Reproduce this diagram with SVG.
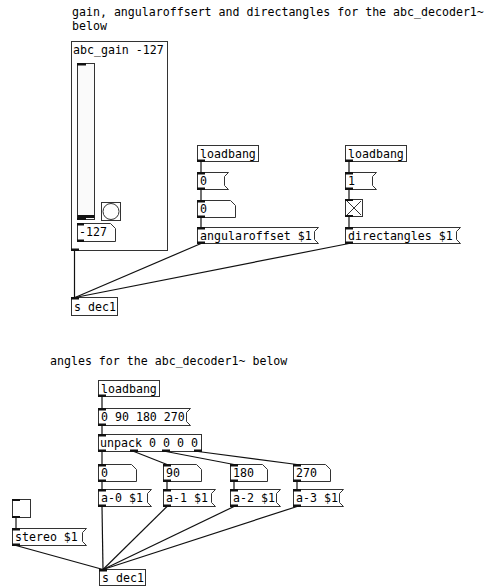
<svg xmlns="http://www.w3.org/2000/svg" width="488" height="586" viewBox="0 0 488 586">
<style>
text{font-family:"DejaVu Sans Mono","Liberation Mono",monospace;font-size:11.6px;fill:#000}
.b{fill:#fff;stroke:#333;stroke-width:1}
.io{fill:#111}
.w{stroke:#111;stroke-width:1.2;fill:none}
</style>
<rect width="488" height="586" fill="#fff"/>

<g id="comment1">
<text x="72" y="16">gain, angularoffsert and directangles for the abc_decoder1~</text>
<text x="72" y="30">below</text>
</g>

<g id="abc_gain">
<rect class="b" x="71.5" y="41.5" width="96" height="209"/>
<text x="73" y="54">abc_gain -127</text>
<rect x="77.5" y="63.5" width="17" height="156" fill="#fafafa" stroke="#333"/>
<rect class="io" x="77" y="63" width="9" height="2.5"/>
<rect class="io" x="77.5" y="215" width="17" height="3"/>
<rect class="io" x="77" y="218" width="9" height="2"/>
<rect class="b" x="101.5" y="202.5" width="19" height="18"/>
<circle cx="111" cy="211.5" r="8" fill="#fff" stroke="#333"/>
<path class="b" d="M77.5,223.5 H110.5 L115.5,228.5 V241.5 H77.5 Z"/>
<rect class="io" x="77" y="223" width="7" height="2.5"/>
<rect class="io" x="77" y="239.5" width="7" height="2.5"/>
<text x="79" y="236">-127</text>
<rect class="io" x="71" y="248.5" width="8" height="2.5"/>
</g>

<g id="sdec1_top">
<rect class="b" x="71.5" y="297.5" width="46" height="18"/>
<rect class="io" x="71" y="297" width="8" height="2.5"/>
<text x="74" y="310.5">s dec1</text>
</g>

<g id="loadbang1">
<rect class="b" x="197.5" y="145.5" width="61" height="16"/>
<rect class="io" x="197" y="159.5" width="8" height="2.5"/>
<text x="200" y="157.5">loadbang</text>
</g>
<g id="msg0">
<path class="b" d="M197.5,172.5 H228.5 L224.5,176.5 V185.5 L228.5,189.5 H197.5 Z"/>
<rect class="io" x="197" y="172" width="8" height="2.5"/>
<rect class="io" x="197" y="187.5" width="8" height="2.5"/>
<text x="200" y="185">0</text>
</g>
<g id="num0">
<path class="b" d="M197.5,200.5 H230.5 L235.5,205.5 V217.5 H197.5 Z"/>
<rect class="io" x="197" y="200" width="8" height="2.5"/>
<rect class="io" x="197" y="215.5" width="8" height="2.5"/>
<text x="200" y="213">0</text>
</g>
<g id="angularoffset">
<path class="b" d="M197.5,227.5 H318.5 L314.5,231.5 V239.5 L318.5,243.5 H197.5 Z"/>
<rect class="io" x="197" y="227" width="8" height="2.5"/>
<rect class="io" x="197" y="241.5" width="8" height="2.5"/>
<text x="200" y="240">angularoffset $1</text>
</g>

<g id="loadbang2">
<rect class="b" x="345.5" y="145.5" width="61" height="16"/>
<rect class="io" x="345" y="159.5" width="8" height="2.5"/>
<text x="348" y="157.5">loadbang</text>
</g>
<g id="msg1">
<path class="b" d="M345.5,172.5 H376.5 L372.5,176.5 V185.5 L376.5,189.5 H345.5 Z"/>
<rect class="io" x="345" y="172" width="8" height="2.5"/>
<rect class="io" x="345" y="187.5" width="8" height="2.5"/>
<text x="348" y="185">1</text>
</g>
<g id="toggle1">
<rect class="b" x="345.5" y="199.5" width="17" height="17"/>
<path d="M347,201 L361,215 M361,201 L347,215" stroke="#333" stroke-width="1"/>
<rect class="io" x="345" y="199" width="8" height="2"/>
<rect class="io" x="345" y="215" width="8" height="2"/>
</g>
<g id="directangles">
<path class="b" d="M345.5,227.5 H460.5 L456.5,231.5 V239.5 L460.5,243.5 H345.5 Z"/>
<rect class="io" x="345" y="227" width="8" height="2.5"/>
<rect class="io" x="345" y="241.5" width="8" height="2.5"/>
<text x="348" y="240">directangles $1</text>
</g>

<g id="comment2">
<text x="50" y="365">angles for the abc_decoder1~ below</text>
</g>

<g id="loadbang3">
<rect class="b" x="98.5" y="380.5" width="61" height="16"/>
<rect class="io" x="98" y="394.5" width="8" height="2.5"/>
<text x="101" y="392.5">loadbang</text>
</g>
<g id="msg_angles">
<path class="b" d="M98.5,408.5 H190.5 L186.5,412.5 V421.5 L190.5,425.5 H98.5 Z"/>
<rect class="io" x="98" y="408" width="8" height="2.5"/>
<rect class="io" x="98" y="423.5" width="8" height="2.5"/>
<text x="101" y="421">0 90 180 270</text>
</g>
<g id="unpack">
<rect class="b" x="98.5" y="434.5" width="103" height="17"/>
<rect class="io" x="98" y="434" width="8" height="2.5"/>
<rect class="io" x="98" y="449.5" width="8" height="2.5"/>
<rect class="io" x="130" y="449.5" width="8" height="2.5"/>
<rect class="io" x="162" y="449.5" width="8" height="2.5"/>
<rect class="io" x="194" y="449.5" width="8" height="2.5"/>
<text x="100" y="447" textLength="98" lengthAdjust="spacingAndGlyphs">unpack 0 0 0 0</text>
</g>

<g id="n0">
<path class="b" d="M98.5,464.5 H131.5 L136.5,469.5 V481.5 H98.5 Z"/>
<rect class="io" x="98" y="464" width="8" height="2.5"/>
<rect class="io" x="98" y="479.5" width="8" height="2.5"/>
<text x="101" y="477">0</text>
</g>
<g id="n90">
<path class="b" d="M163.5,464.5 H196.5 L201.5,469.5 V481.5 H163.5 Z"/>
<rect class="io" x="163" y="464" width="8" height="2.5"/>
<rect class="io" x="163" y="479.5" width="8" height="2.5"/>
<text x="166" y="477">90</text>
</g>
<g id="n180">
<path class="b" d="M230.5,464.5 H262.5 L267.5,469.5 V481.5 H230.5 Z"/>
<rect class="io" x="230" y="464" width="8" height="2.5"/>
<rect class="io" x="230" y="479.5" width="8" height="2.5"/>
<text x="233" y="477">180</text>
</g>
<g id="n270">
<path class="b" d="M293.5,464.5 H325.5 L330.5,469.5 V481.5 H293.5 Z"/>
<rect class="io" x="293" y="464" width="8" height="2.5"/>
<rect class="io" x="293" y="479.5" width="8" height="2.5"/>
<text x="296" y="477">270</text>
</g>

<g id="a0">
<path class="b" d="M98.5,489.5 H151.5 L147.5,493.5 V502.5 L151.5,506.5 H98.5 Z"/>
<rect class="io" x="98" y="489" width="8" height="2.5"/>
<rect class="io" x="98" y="504.5" width="8" height="2.5"/>
<text x="101" y="502">a-0 $1</text>
</g>
<g id="a1">
<path class="b" d="M163.5,489.5 H215.5 L211.5,493.5 V502.5 L215.5,506.5 H163.5 Z"/>
<rect class="io" x="163" y="489" width="8" height="2.5"/>
<rect class="io" x="163" y="504.5" width="8" height="2.5"/>
<text x="166" y="502">a-1 $1</text>
</g>
<g id="a2">
<path class="b" d="M230.5,489.5 H280.5 L276.5,493.5 V502.5 L280.5,506.5 H230.5 Z"/>
<rect class="io" x="230" y="489" width="8" height="2.5"/>
<rect class="io" x="230" y="504.5" width="8" height="2.5"/>
<text x="233" y="502">a-2 $1</text>
</g>
<g id="a3">
<path class="b" d="M293.5,489.5 H343.5 L339.5,493.5 V502.5 L343.5,506.5 H293.5 Z"/>
<rect class="io" x="293" y="489" width="8" height="2.5"/>
<rect class="io" x="293" y="504.5" width="8" height="2.5"/>
<text x="296" y="502">a-3 $1</text>
</g>

<g id="toggle2">
<rect class="b" x="12.5" y="499.5" width="18" height="18"/>
<rect class="io" x="12" y="499" width="8" height="2"/>
<rect class="io" x="12" y="516" width="8" height="2"/>
</g>
<g id="stereo">
<path class="b" d="M12.5,528.5 H86.5 L82.5,532.5 V541.5 L86.5,545.5 H12.5 Z"/>
<rect class="io" x="12" y="528" width="8" height="2.5"/>
<rect class="io" x="12" y="543.5" width="8" height="2.5"/>
<text x="15" y="541">stereo $1</text>
</g>

<g id="sdec1_bottom">
<rect class="b" x="99.5" y="569.5" width="46" height="16"/>
<rect class="io" x="99" y="569" width="8" height="2.5"/>
<text x="102" y="581.5">s dec1</text>
</g>

<g id="connectors">
<path class="w" d="M74.5,251 V297.5"/>
<path class="w" d="M201,243.5 L75,297.5"/>
<path class="w" d="M349,243.5 L75,297.5"/>
<path class="w" d="M201,161.5 V172.5 M201,189.5 V200.5 M201,217.5 V227.5"/>
<path class="w" d="M349,161.5 V172.5 M349,189.5 V199.5 M349,216.5 V227.5"/>
<path class="w" d="M102,396.5 V408.5 M102,425.5 V434.5"/>
<path class="w" d="M102,451.5 V464.5"/>
<path class="w" d="M134,451.5 L167,464.5"/>
<path class="w" d="M166,451.5 L234,464.5"/>
<path class="w" d="M198,451.5 L297,464.5"/>
<path class="w" d="M102,481.5 V489.5 M167,481.5 V489.5 M234,481.5 V489.5 M297,481.5 V489.5"/>
<path class="w" d="M102,506.5 L103,569.5"/>
<path class="w" d="M167,506.5 L103,569.5"/>
<path class="w" d="M234,506.5 L103,569.5"/>
<path class="w" d="M297,506.5 L103,569.5"/>
<path class="w" d="M16,517.5 V528.5"/>
<path class="w" d="M16,545.5 L103,569.5"/>
</g>
</svg>
